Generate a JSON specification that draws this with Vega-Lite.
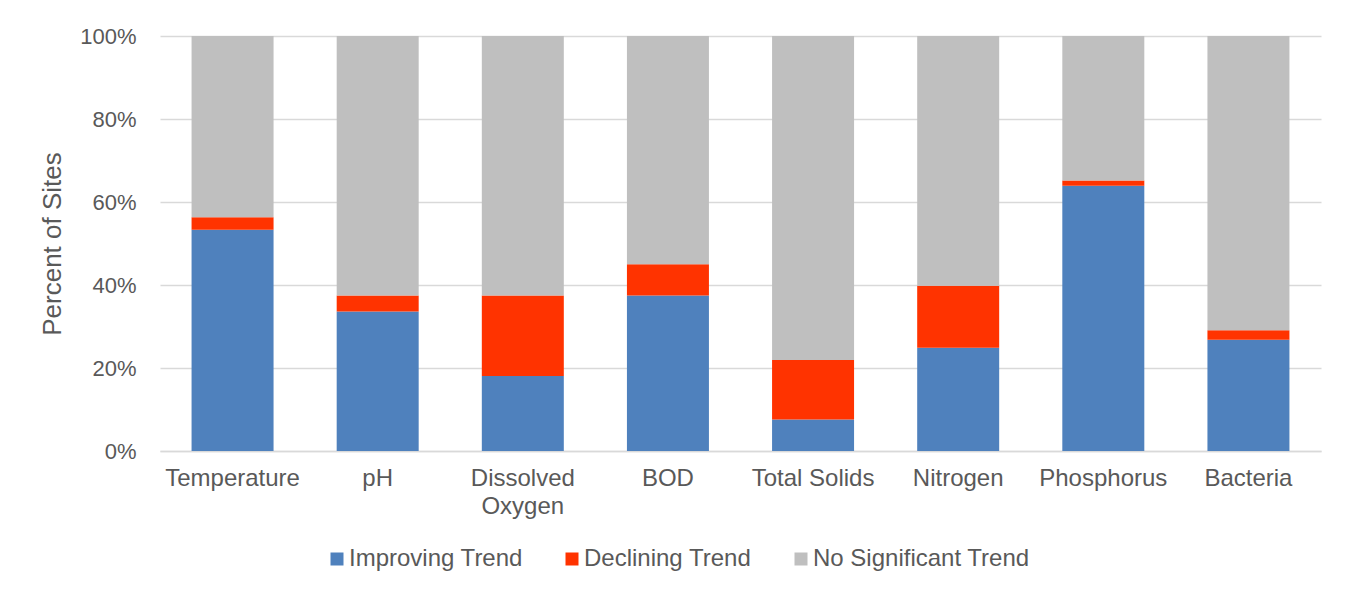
{
  "$schema": "https://vega.github.io/schema/vega-lite/v6.json",
  "width": 1161,
  "height": 415,
  "autosize": {"type": "none"},
  "padding": {"left": 160, "top": 36, "right": 30, "bottom": 141},
  "background": "white",
  "config": {
    "font": "Liberation Sans",
    "view": {"stroke": null}
  },
  "data": {
    "values": [
      {"param": "Temperature", "trend": "Improving Trend", "ord": 1, "pct": 53.3},
      {"param": "Temperature", "trend": "Declining Trend", "ord": 2, "pct": 3.0},
      {"param": "Temperature", "trend": "No Significant Trend", "ord": 3, "pct": 43.7},
      {"param": "pH", "trend": "Improving Trend", "ord": 1, "pct": 33.6},
      {"param": "pH", "trend": "Declining Trend", "ord": 2, "pct": 3.9},
      {"param": "pH", "trend": "No Significant Trend", "ord": 3, "pct": 62.5},
      {"param": "Dissolved Oxygen", "trend": "Improving Trend", "ord": 1, "pct": 18.1},
      {"param": "Dissolved Oxygen", "trend": "Declining Trend", "ord": 2, "pct": 19.4},
      {"param": "Dissolved Oxygen", "trend": "No Significant Trend", "ord": 3, "pct": 62.5},
      {"param": "BOD", "trend": "Improving Trend", "ord": 1, "pct": 37.5},
      {"param": "BOD", "trend": "Declining Trend", "ord": 2, "pct": 7.5},
      {"param": "BOD", "trend": "No Significant Trend", "ord": 3, "pct": 55.0},
      {"param": "Total Solids", "trend": "Improving Trend", "ord": 1, "pct": 7.6},
      {"param": "Total Solids", "trend": "Declining Trend", "ord": 2, "pct": 14.3},
      {"param": "Total Solids", "trend": "No Significant Trend", "ord": 3, "pct": 78.1},
      {"param": "Nitrogen", "trend": "Improving Trend", "ord": 1, "pct": 24.9},
      {"param": "Nitrogen", "trend": "Declining Trend", "ord": 2, "pct": 14.9},
      {"param": "Nitrogen", "trend": "No Significant Trend", "ord": 3, "pct": 60.2},
      {"param": "Phosphorus", "trend": "Improving Trend", "ord": 1, "pct": 63.9},
      {"param": "Phosphorus", "trend": "Declining Trend", "ord": 2, "pct": 1.3},
      {"param": "Phosphorus", "trend": "No Significant Trend", "ord": 3, "pct": 34.8},
      {"param": "Bacteria", "trend": "Improving Trend", "ord": 1, "pct": 26.8},
      {"param": "Bacteria", "trend": "Declining Trend", "ord": 2, "pct": 2.3},
      {"param": "Bacteria", "trend": "No Significant Trend", "ord": 3, "pct": 70.9}
    ]
  },
  "mark": {"type": "bar"},
  "encoding": {
    "x": {
      "field": "param",
      "type": "nominal",
      "sort": ["Temperature", "pH", "Dissolved Oxygen", "BOD", "Total Solids", "Nitrogen", "Phosphorus", "Bacteria"],
      "scale": {"paddingInner": 0.435, "paddingOuter": 0.2175},
      "axis": {
        "title": null,
        "labelAngle": 0,
        "labelFontSize": 24,
        "labelColor": "#595959",
        "labelPadding": 15,
        "labelLineHeight": 28,
        "labelExpr": "datum.label == 'Dissolved Oxygen' ? ['Dissolved', 'Oxygen'] : datum.label",
        "ticks": false,
        "domainColor": "#d9d9d9",
        "domainWidth": 1.5,
        "labelLimit": 0
      }
    },
    "y": {
      "field": "pct",
      "type": "quantitative",
      "stack": "zero",
      "scale": {"domain": [0, 100], "nice": false},
      "axis": {
        "title": "Percent of Sites",
        "titleFontSize": 26,
        "titleFontWeight": "normal",
        "titleColor": "#595959",
        "titlePadding": 14,
        "values": [0, 20, 40, 60, 80, 100],
        "labelExpr": "datum.value + '%'",
        "labelFontSize": 22,
        "labelColor": "#595959",
        "labelPadding": 24,
        "ticks": false,
        "domain": false,
        "gridColor": "#d9d9d9",
        "gridWidth": 1.5
      }
    },
    "color": {
      "field": "trend",
      "type": "nominal",
      "sort": ["Improving Trend", "Declining Trend", "No Significant Trend"],
      "scale": {
        "domain": ["Improving Trend", "Declining Trend", "No Significant Trend"],
        "range": ["#4f81bd", "#ff3300", "#bfbfbf"]
      },
      "legend": {
        "title": null,
        "orient": "none",
        "direction": "horizontal",
        "legendX": 165,
        "legendY": 511,
        "symbolType": "square",
        "symbolSize": 169,
        "symbolStrokeWidth": 0,
        "labelFontSize": 24,
        "labelColor": "#595959",
        "labelOffset": 0,
        "columnPadding": 37,
        "labelLimit": 0
      }
    },
    "order": {"field": "ord", "type": "quantitative"}
  }
}
